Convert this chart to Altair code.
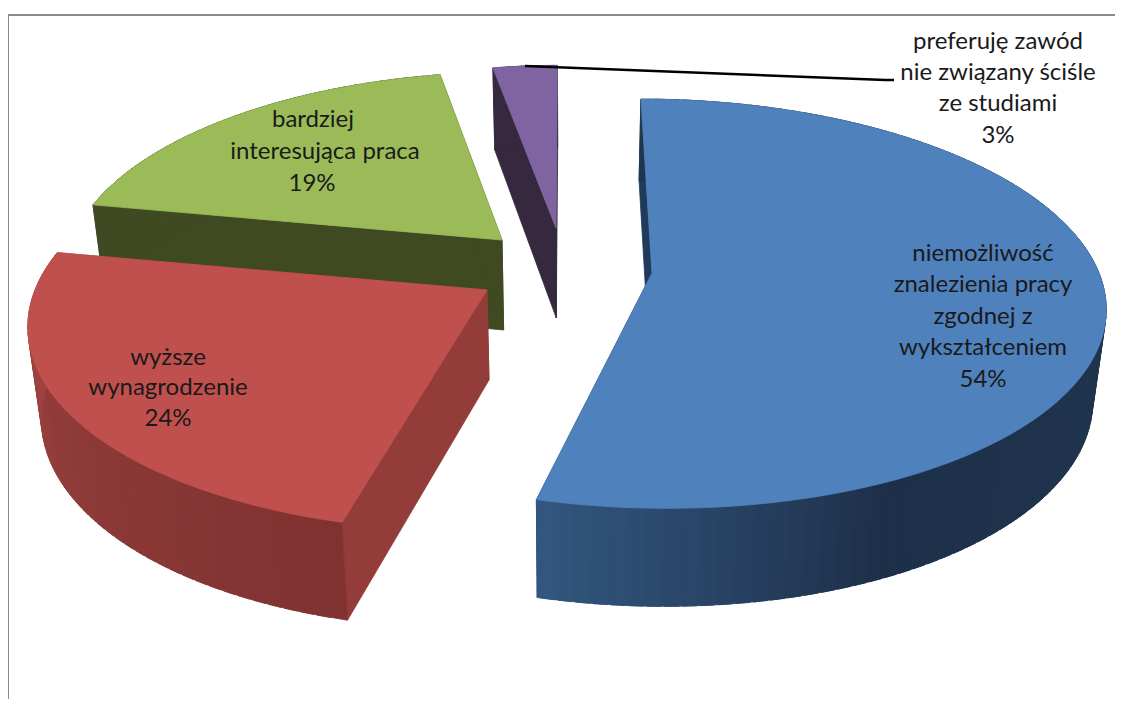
import math
import altair as alt
import pandas as pd

# --- values
names = ["niemożliwość", "wyższe", "bardziej", "preferuję"]
shares = [54, 24, 19, 3]
top_colors = ["#4f81bd", "#c0504d", "#9bbb59", "#8064a2"]
face_colors = ["#1f3a5a", "#933c3a", "#3f4a22", "#35283f"]
wall_stops = [
    [(90, "#20364f"), (155, "#1e3049"), (194.4, "#335780")],
    [(194.4, "#7f3230"), (240, "#8f3b39"), (280.8, "#a84744")],
    [(280.8, "#3f4a22"), (349.2, "#3f4a22")],
    [(349.2, "#35283f"), (360, "#35283f")],
]
# exploded apex of each slice and its radii (pixel frame of the picture)
apex = [(652, 273), (487, 290), (502, 240), (556, 228)]
radii = [(447, 200), (452, 205), (430, 193), (395, 187)]
draw_order = [3, 2, 1, 0]

label_lines = [
    ("preferuję zawód", 998, 42), ("nie związany ściśle", 998, 73), ("ze studiami", 998, 104), ("3%", 998, 136),
    ("niemożliwość", 983, 254), ("znalezienia pracy", 983, 285), ("zgodnej z", 983, 317),
    ("wykształceniem", 983, 348), ("54%", 983, 380),
    ("bardziej", 313, 120), ("interesująca praca", 325, 152), ("19%", 312, 184),
    ("wyższe", 168, 358), ("wynagrodzenie", 168, 388), ("24%", 168, 419),
]
leader_x = [525, 885, 894]
leader_y = [66, 80, 80]

CX, K, DEPTH, ZS = 567.0, 0.15, 90.0, 0.975
W, H = 1107, 691


def rgb(c):
    return tuple(int(c[i:i + 2], 16) for i in (1, 3, 5))


def wall_color(stops, t):
    if t <= stops[0][0]:
        return stops[0][1]
    for (a, ca), (b, cb) in zip(stops, stops[1:]):
        if t <= b:
            f = (t - a) / (b - a)
            ra, rb = rgb(ca), rgb(cb)
            return "#%02x%02x%02x" % tuple(round(p + (q - p) * f) for p, q in zip(ra, rb))
    return stops[-1][1]


def project(i, t, r=1.0, low=False):
    ax, ay = apex[i]
    rx, ry = radii[i]
    a = math.radians(t)
    u, v = math.sin(a) * r, -math.cos(a) * r
    s = 1 / (1 - K * v)
    x = CX + (ax - CX + rx * u) * s
    y = ay + ry * v * s
    if low:
        x = CX + (x - CX) * ZS
        y += DEPTH * (1 + 0.09 * v)
    return x, y


rows = []
poly = 0


def add(points, color):
    global poly
    poly += 1
    pts = list(points) + [points[0]]
    for n, (x, y) in enumerate(pts):
        rows.append({"poly": poly, "i": n, "x": x, "y": y, "color": color})


angles = []
acc = 0.0
for sh in shares:
    angles.append((acc, acc + sh * 3.6))
    acc += sh * 3.6

for i in draw_order:
    t0, t1 = angles[i]
    # radial side faces
    for t in (t0, t1):
        add([project(i, t), project(i, t, 0.0), project(i, t, 0.0, True), project(i, t, 1.0, True)], face_colors[i])
    # outer wall, each strip reaching under the next one
    n = max(4, int((t1 - t0) / 2.0))
    step = (t1 - t0) / n
    for j in range(n):
        a = t0 + step * j
        b = min(t1, a + step * 1.8)
        add([project(i, a), project(i, b), project(i, b, 1.0, True), project(i, a, 1.0, True)],
            wall_color(wall_stops[i], a + step / 2))
    # top face
    n = max(6, int((t1 - t0) / 1.5))
    add([project(i, t0, 0.0)] + [project(i, t0 + (t1 - t0) * j / n) for j in range(n + 1)], top_colors[i])

df = pd.DataFrame(rows)
xs = alt.Scale(domain=[8, 8 + W], range=[0, W], nice=False, zero=False)
ys = alt.Scale(domain=[8, 8 + H], range=[0, H], nice=False, zero=False)
X = lambda f="x": alt.X(f"{f}:Q", scale=xs, axis=None)
Y = lambda f="y": alt.Y(f"{f}:Q", scale=ys, axis=None)

faces = alt.Chart(df).mark_line(strokeWidth=0.8, interpolate="linear").encode(
    x=X(), y=Y(),
    detail="poly:N",
    order="i:Q",
    fill=alt.Fill("color:N", scale=None),
    stroke=alt.Stroke("color:N", scale=None),
)

leader = alt.Chart(pd.DataFrame({"x": leader_x, "y": leader_y, "i": range(len(leader_x))})).mark_line(
    color="#000000", strokeWidth=2.5).encode(x=X(), y=Y(), order="i:Q")

frame_h = alt.Chart(pd.DataFrame({"x": [8], "x2": [1115], "y": [15]})).mark_rule(
    color="#8a8a8a", strokeWidth=2).encode(x=X(), x2="x2:Q", y=Y())
frame_v = alt.Chart(pd.DataFrame({"x": [8], "y": [15], "y2": [699]})).mark_rule(
    color="#8a8a8a", strokeWidth=2).encode(x=X(), y=Y(), y2="y2:Q")

labels = alt.Chart(pd.DataFrame(label_lines, columns=["t", "x", "y"])).mark_text(
    font="Lato", fontSize=24, color="#1a1a1a", baseline="middle", align="center").encode(
    x=X(), y=Y(), text="t:N")

chart = alt.layer(frame_h, frame_v, faces, leader, labels).properties(
    width=W, height=H, padding=0, background="#ffffff", autosize=alt.AutoSizeParams(type="none")
).configure_view(stroke=None)

chart.save("out.html", embed_options={"renderer": "svg", "actions": False})
